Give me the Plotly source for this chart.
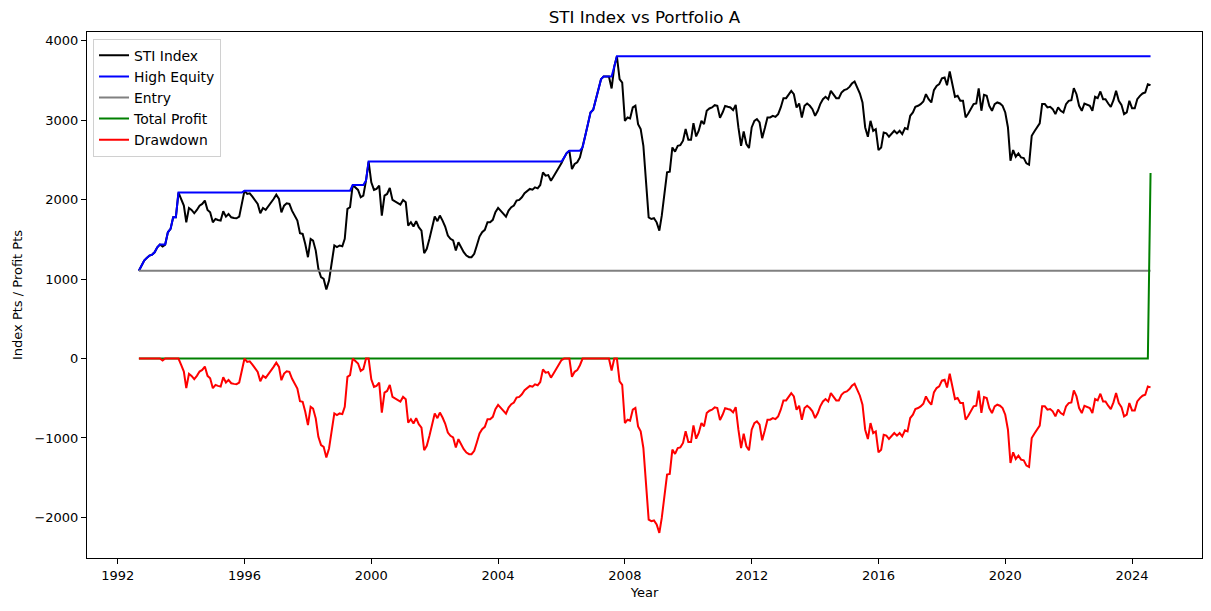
import pandas as pd
import plotly.graph_objects as go

# STI monthly closes, Sep 1992 .. Aug 2024, one row per Sep..Aug year
sti = [
    1105, 1170, 1234, 1267, 1297, 1309, 1338, 1401, 1435, 1410, 1435, 1590,
    1632, 1778, 1778, 2089, 2009, 1925, 1716, 1896, 1871, 1829, 1871, 1925,
    1946, 1988, 1871, 1841, 1716, 1757, 1745, 1737, 1854, 1787, 1820, 1778,
    1770, 1766, 1787, 1946, 2114, 2072, 2080, 2038, 1996, 1946, 1829, 1896,
    1871, 1912, 1967, 2009, 2063, 2009, 1841, 1925, 1954, 1946, 1862, 1799,
    1737, 1577, 1569, 1443, 1276, 1506, 1485, 1359, 1129, 1024, 1003, 869,
    982, 1200, 1423, 1402, 1423, 1414, 1507, 1884, 1905, 2185, 2160, 2123,
    2030, 2051, 2240, 2480, 2219, 2123, 2135, 2177, 1800, 2051, 2072, 2148,
    1997, 1980, 1955, 1938, 1997, 1968, 1674, 1716, 1662, 1729, 1653, 1611,
    1326, 1381, 1507, 1662, 1787, 1729, 1800, 1737, 1662, 1549, 1507, 1486,
    1360, 1465, 1402, 1339, 1297, 1276, 1276, 1318, 1423, 1536, 1591, 1620,
    1716, 1716, 1746, 1842, 1896, 1863, 1829, 1787, 1863, 1905, 1926, 1988,
    1997, 2030, 2081, 2114, 2135, 2126, 2155, 2143, 2185, 2344, 2302, 2310,
    2239, 2293, 2344, 2407, 2461, 2532, 2587, 2616, 2386, 2449, 2470, 2532,
    2658, 2805, 2951, 3098, 3132, 3266, 3391, 3517, 3551, 3551, 3551, 3400,
    3676, 3805, 3517, 3475, 2993, 3035, 3023, 3161, 3182, 2951, 2889, 2679,
    2260, 1778, 1757, 1766, 1715, 1611, 1799, 2051, 2344, 2352, 2658, 2604,
    2679, 2687, 2742, 2889, 2754, 2754, 2964, 2796, 2868, 2993, 2951, 3119,
    3148, 3161, 3190, 3182, 3030, 3100, 3180, 3170, 3161, 3127, 3194, 2909,
    2679, 2859, 2700, 2650, 2909, 2993, 3014, 2972, 2775, 2901, 3035, 3035,
    3056, 3043, 3077, 3161, 3278, 3278, 3328, 3370, 3328, 3161, 3211, 3035,
    3182, 3211, 3182, 3140, 3056, 3119, 3203, 3265, 3295, 3265, 3370, 3328,
    3278, 3278, 3349, 3379, 3391, 3420, 3462, 3488, 3412, 3337, 3224, 2909,
    2792, 2993, 2867, 2888, 2624, 2658, 2846, 2834, 2792, 2834, 2867, 2834,
    2867, 2825, 2901, 2888, 3056, 3098, 3169, 3182, 3203, 3236, 3328, 3265,
    3224, 3379, 3433, 3454, 3529, 3538, 3441, 3613, 3475, 3295, 3307, 3245,
    3245, 3035, 3085, 3140, 3203, 3211, 3400, 3120, 3320, 3307, 3182, 3119,
    3203, 3224, 3211, 3182, 3098, 2909, 2490, 2624, 2541, 2583, 2532, 2524,
    2457, 2440, 2805, 2859, 2918, 2960, 3203, 3203, 3161, 3169, 3140, 3077,
    3161, 3119, 3098, 3203, 3245, 3253, 3404, 3328, 3182, 3119, 3211, 3194,
    3182, 3119, 3295, 3278, 3362, 3265, 3265, 3211, 3169, 3253, 3370, 3245,
    3194, 3077, 3098, 3245, 3152, 3152, 3265, 3307, 3337, 3349, 3454, 3442,
]
dates = pd.date_range("1992-09-01", periods=len(sti), freq="MS")

df = pd.DataFrame({"Date": dates, "STI": sti})
df["HighEquity"] = df["STI"].cummax()
df["Entry"] = df["STI"].iloc[0]
df["Drawdown"] = df["STI"] - df["HighEquity"]
df["Profit"] = 0
df.loc[df.index[-1], "Profit"] = df["STI"].iloc[-1] - df["Entry"].iloc[-1]

fig = go.Figure()
fig.add_trace(go.Scatter(x=df["Date"], y=df["STI"], mode="lines", name="STI Index",
                         line=dict(color="black", width=2)))
fig.add_trace(go.Scatter(x=df["Date"], y=df["HighEquity"], mode="lines", name="High Equity",
                         line=dict(color="blue", width=2)))
fig.add_trace(go.Scatter(x=df["Date"], y=df["Entry"], mode="lines", name="Entry",
                         line=dict(color="gray", width=2)))
fig.add_trace(go.Scatter(x=df["Date"], y=df["Profit"], mode="lines", name="Total Profit",
                         line=dict(color="green", width=2)))
fig.add_trace(go.Scatter(x=df["Date"], y=df["Drawdown"], mode="lines", name="Drawdown",
                         line=dict(color="red", width=2)))

axis_style = dict(showline=True, mirror=True, linecolor="black", linewidth=1,
                  ticks="outside", ticklen=5, tickcolor="black", showgrid=False,
                  zeroline=False, tickfont=dict(size=13, color="black"))

# page body has an 8px margin, so the figure is 8px smaller than the window
fig.update_layout(
    width=1203, height=603,
    margin=dict(l=79, r=9, t=24, b=53),
    paper_bgcolor="white", plot_bgcolor="white",
    font=dict(family="DejaVu Sans", size=13, color="black"),
    title=dict(text="STI Index vs Portfolio A", x=0.5, xref="paper",
               y=1 - 9 / 603, yref="container", yanchor="middle",
               font=dict(size=16.7)),
    legend=dict(x=0.0054, y=0.987, xanchor="left", yanchor="top",
                bgcolor="rgba(255,255,255,0.8)", bordercolor="#d0d0d0", borderwidth=1,
                font=dict(size=13.9)),
)
fig.update_xaxes(type="date", range=["1991-01-12", "2026-03-17"],
                 tick0="1992-01-01", dtick="M48", tickformat="%Y",
                 title=dict(text="Year", standoff=6, font=dict(size=13)), **axis_style)
fig.update_yaxes(range=[-2511, 4111], dtick=1000,
                 title=dict(text="Index Pts / Profit Pts", standoff=8, font=dict(size=13)),
                 **axis_style)

fig.write_html("out.html")
